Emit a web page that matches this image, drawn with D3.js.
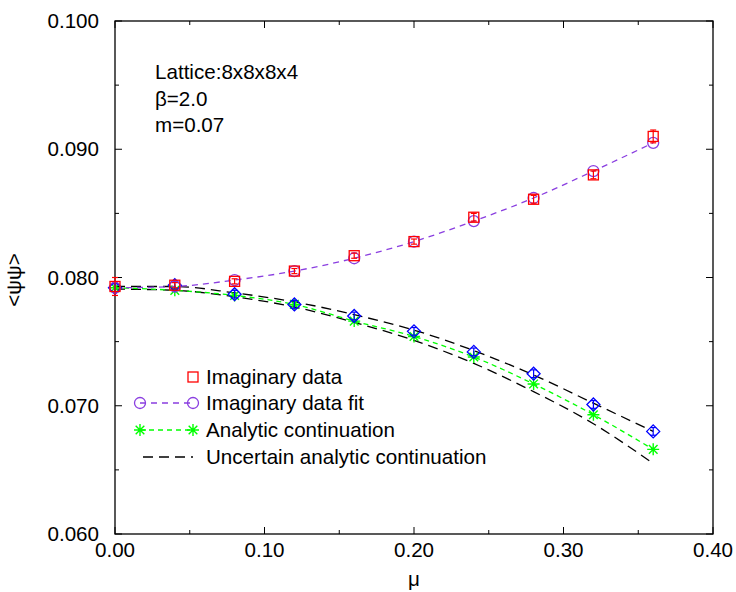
<!DOCTYPE html>
<html><head><meta charset="utf-8">
<script src="https://cdn.jsdelivr.net/npm/d3@7"></script>
<style>
body{margin:0;background:#fff}
svg{display:block}
text{font-family:"Liberation Sans",Arial,Helvetica,sans-serif;fill:#000}
</style>
</head><body>
<svg id="chart" width="736" height="592"></svg>
<script>
// ---- data ----
const mu = [0.00, 0.04, 0.08, 0.12, 0.16, 0.20, 0.24, 0.28, 0.32, 0.36];
const imagData = [0.0793, 0.0794, 0.0797, 0.0805, 0.0817, 0.0828, 0.0847, 0.0861, 0.0880, 0.0910];
const imagErr  = [0.0007, 0.0002, 0.0002, 0.0002, 0.0002, 0.0002, 0.0003, 0.0003, 0.0003, 0.0005];
const imagFit  = [0.0792, 0.0793, 0.0798, 0.0805, 0.0815, 0.0828, 0.0844, 0.0862, 0.0883, 0.0905];
const analytic = [0.0792, 0.0790, 0.0786, 0.0779, 0.0766, 0.0754, 0.0738, 0.0717, 0.0693, 0.0666];
const continuationPts = [0.0792, 0.0794, 0.0787, 0.0779, 0.0770, 0.0758, 0.0742, 0.0725, 0.0701, 0.0680];
const continuationErr = [0.0003, 0.0003, 0.0003, 0.0003, 0.0003, 0.0003, 0.0003, 0.0003, 0.0003, 0.0003];
const upperBand = [0.0793, 0.0793, 0.0788, 0.0781, 0.0771, 0.0759, 0.0743, 0.0724, 0.0702, 0.0680];
const lowerBand = [0.0791, 0.0790, 0.0785, 0.0777, 0.0765, 0.0751, 0.0733, 0.0711, 0.0686, 0.0655];
const xTicks = [0.0, 0.1, 0.2, 0.3, 0.4];
const xTickLabels = ["0.00", "0.10", "0.20", "0.30", "0.40"];
const xMinor = [0.05, 0.15, 0.25, 0.35];
const yTicks = [0.060, 0.070, 0.080, 0.090, 0.100];
const yTickLabels = ["0.060", "0.070", "0.080", "0.090", "0.100"];
const yMinor = [0.065, 0.075, 0.085, 0.095];
const notes = ["Lattice:8x8x8x4", "\u03B2=2.0", "m=0.07"];
const legendLabels = ["Imaginary data", "Imaginary data fit", "Analytic continuation", "Uncertain analytic continuation"];

// ---- layout ----
const L = 115, R = 713, T = 21, B = 534;
const FS = 20.6;
const svg = d3.select("#chart");
const x = d3.scaleLinear().domain([0, 0.4]).range([L, R]);
const y = d3.scaleLinear().domain([0.06, 0.10]).range([B, T]);

const C = {red: "#ff0000", purple: "#8a3ee0", green: "#00ff00", blue: "#0000ff", black: "#000"};

// frame
svg.append("rect").attr("x", L).attr("y", T).attr("width", R - L).attr("height", B - T)
  .attr("fill", "none").attr("stroke", "#000").attr("stroke-width", 1.3);

// ticks (inward, all four sides)
const g = svg.append("g").attr("stroke", "#000").attr("stroke-width", 1);
function vt(val, len) {
  g.append("line").attr("x1", x(val)).attr("x2", x(val)).attr("y1", B).attr("y2", B - len);
  g.append("line").attr("x1", x(val)).attr("x2", x(val)).attr("y1", T).attr("y2", T + len);
}
function ht(val, len) {
  g.append("line").attr("y1", y(val)).attr("y2", y(val)).attr("x1", L).attr("x2", L + len);
  g.append("line").attr("y1", y(val)).attr("y2", y(val)).attr("x1", R).attr("x2", R - len);
}
xTicks.forEach(v => vt(v, 7)); xMinor.forEach(v => vt(v, 4));
yTicks.forEach(v => ht(v, 7)); yMinor.forEach(v => ht(v, 4));

// tick labels
svg.append("g").selectAll("text").data(xTicks).join("text")
  .attr("x", d => x(d)).attr("y", 557).attr("text-anchor", "middle")
  .attr("font-size", FS).text((d, i) => xTickLabels[i]);
svg.append("g").selectAll("text").data(yTicks).join("text")
  .attr("x", 99).attr("y", d => y(d)).attr("dy", "0.35em").attr("text-anchor", "end")
  .attr("font-size", FS).text((d, i) => yTickLabels[i]);

// axis titles
svg.append("text").attr("x", x(0.2)).attr("y", 586).attr("text-anchor", "middle")
  .attr("font-size", FS).text("\u03BC");
svg.append("text").attr("transform", "translate(21,280) rotate(-90)").attr("text-anchor", "middle")
  .attr("font-size", FS).text("<\u03C8\u03C8>");

// annotations
svg.append("g").selectAll("text").data(notes).join("text")
  .attr("x", 155).attr("y", (d, i) => 79 + i * 26.5).attr("font-size", FS).text(d => d);

// lines
const pts = arr => mu.map((m, i) => [m, arr[i]]);
const line = d3.line().x(d => x(d[0])).y(d => y(d[1])).curve(d3.curveMonotoneX);
function drawLine(arr, color, dash, w) {
  svg.append("path").attr("d", line(pts(arr))).attr("fill", "none")
    .attr("stroke", color).attr("stroke-width", w || 1.3).attr("stroke-dasharray", dash);
}
drawLine(upperBand, C.black, "10,6");
drawLine(lowerBand, C.black, "10,6");
drawLine(analytic, C.green, "5,4");
drawLine(imagFit, C.purple, "6,5");

// marker helpers
function square(gg, cx, cy, s) {
  gg.append("rect").attr("x", cx - s / 2).attr("y", cy - s / 2).attr("width", s).attr("height", s)
    .attr("fill", "none").attr("stroke", C.red).attr("stroke-width", 1.3);
}
function circle(gg, cx, cy, r) {
  gg.append("circle").attr("cx", cx).attr("cy", cy).attr("r", r)
    .attr("fill", "none").attr("stroke", C.purple).attr("stroke-width", 1.3);
}
function star(gg, cx, cy, r) {
  const d = d3.path(); const k = r * 0.72;
  d.moveTo(cx - r, cy); d.lineTo(cx + r, cy);
  d.moveTo(cx, cy - r); d.lineTo(cx, cy + r);
  d.moveTo(cx - k, cy - k); d.lineTo(cx + k, cy + k);
  d.moveTo(cx - k, cy + k); d.lineTo(cx + k, cy - k);
  gg.append("path").attr("d", d.toString()).attr("stroke", C.green).attr("stroke-width", 1.4).attr("fill", "none");
}
function diamond(gg, cx, cy, r) {
  gg.append("path").attr("d", `M${cx},${cy - r}L${cx + r},${cy}L${cx},${cy + r}L${cx - r},${cy}Z`)
    .attr("fill", "none").attr("stroke", C.blue).attr("stroke-width", 1.3);
}
function errbar(gg, cx, v, e, color) {
  const y1 = y(v - e), y2 = y(v + e);
  gg.append("line").attr("x1", cx).attr("x2", cx).attr("y1", y1).attr("y2", y2).attr("stroke", color).attr("stroke-width", 1.2);
  gg.append("line").attr("x1", cx - 3).attr("x2", cx + 3).attr("y1", y1).attr("y2", y1).attr("stroke", color).attr("stroke-width", 1.2);
  gg.append("line").attr("x1", cx - 3).attr("x2", cx + 3).attr("y1", y2).attr("y2", y2).attr("stroke", color).attr("stroke-width", 1.2);
}

const mk = svg.append("g");
mu.forEach((m, i) => star(mk, x(m), y(analytic[i]), 6));
mu.forEach((m, i) => { diamond(mk, x(m), y(continuationPts[i]), 6.5); errbar(mk, x(m), continuationPts[i], continuationErr[i], C.blue); });
mu.forEach((m, i) => circle(mk, x(m), y(imagFit[i]), 5.5));
mu.forEach((m, i) => { square(mk, x(m), y(imagData[i]), 10); errbar(mk, x(m), imagData[i], imagErr[i], C.red); });

// legend
const lg = svg.append("g");
const ly = [377, 403, 430, 457];
const lx1 = 140, lx2 = 193, tx = 206;
square(lg, lx2, ly[0], 10);
lg.append("line").attr("x1", lx1).attr("x2", lx2).attr("y1", ly[1]).attr("y2", ly[1])
  .attr("stroke", C.purple).attr("stroke-width", 1.3).attr("stroke-dasharray", "6,5");
circle(lg, lx1, ly[1], 5.5); circle(lg, lx2, ly[1], 5.5);
lg.append("line").attr("x1", lx1).attr("x2", lx2).attr("y1", ly[2]).attr("y2", ly[2])
  .attr("stroke", C.green).attr("stroke-width", 1.3).attr("stroke-dasharray", "5,4");
star(lg, lx1, ly[2], 6); star(lg, lx2, ly[2], 6);
lg.append("line").attr("x1", 143).attr("x2", lx2).attr("y1", ly[3]).attr("y2", ly[3])
  .attr("stroke", C.black).attr("stroke-width", 1.3).attr("stroke-dasharray", "10,6");
lg.selectAll("text").data(legendLabels).join("text")
  .attr("x", tx).attr("y", (d, i) => ly[i]).attr("dy", "0.35em").attr("font-size", FS).text(d => d);
</script>
</body></html>
